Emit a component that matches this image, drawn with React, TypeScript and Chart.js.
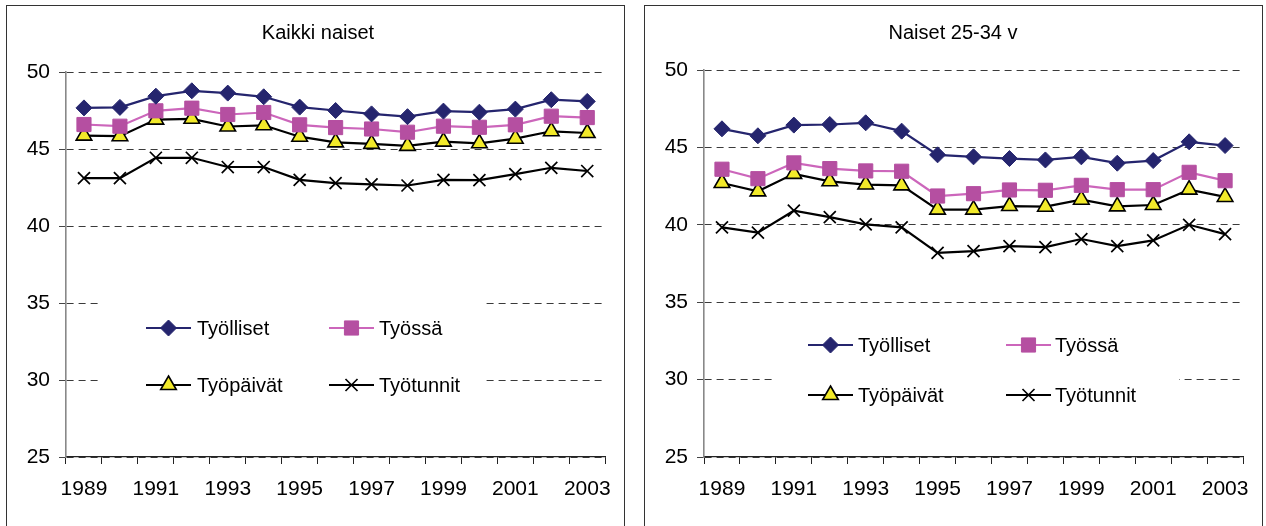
import React, { useEffect, useRef } from 'react';
import { Chart, registerables } from 'chart.js';

Chart.register(...registerables);

// ---------- DATA ----------
const years = ['1989', '1990', '1991', '1992', '1993', '1994', '1995', '1996', '1997', '1998', '1999', '2000', '2001', '2002', '2003'];
const seriesNames = ['Työlliset', 'Työssä', 'Työpäivät', 'Työtunnit'];
const yTickValues = [25, 30, 35, 40, 45, 50];

// Kaikki naiset
const allTyolliset = [47.67, 47.7, 48.43, 48.78, 48.63, 48.39, 47.72, 47.5, 47.28, 47.1, 47.46, 47.39, 47.59, 48.2, 48.09];
const allTyossa = [46.59, 46.48, 47.48, 47.65, 47.24, 47.37, 46.57, 46.39, 46.3, 46.09, 46.48, 46.41, 46.57, 47.13, 47.04];
const allTyopaivat = [45.87, 45.83, 46.91, 46.96, 46.46, 46.54, 45.8, 45.43, 45.33, 45.2, 45.48, 45.37, 45.67, 46.15, 46.04];
const allTyotunnit = [43.11, 43.11, 44.43, 44.43, 43.83, 43.83, 43.0, 42.78, 42.7, 42.63, 43.0, 42.98, 43.37, 43.78, 43.57];

// Naiset 25-34 v
const youngTyolliset = [46.2, 45.75, 46.44, 46.48, 46.59, 46.05, 44.52, 44.39, 44.28, 44.19, 44.39, 43.98, 44.15, 45.36, 45.12];
const youngTyossa = [43.59, 42.98, 44.0, 43.63, 43.48, 43.46, 41.86, 42.01, 42.25, 42.23, 42.55, 42.27, 42.27, 43.39, 42.85];
const youngTyopaivat = [42.7, 42.16, 43.29, 42.81, 42.6, 42.55, 40.98, 40.98, 41.21, 41.17, 41.62, 41.19, 41.28, 42.27, 41.8];
const youngTyotunnit = [39.83, 39.49, 40.91, 40.5, 40.03, 39.83, 38.19, 38.3, 38.62, 38.56, 39.08, 38.62, 38.99, 40.0, 39.4];

// ---------- STYLE ----------
const FONT = "'Liberation Sans', Arial, sans-serif";
const NAVY = '#25256E';
const PINK_LINE = '#CC66BB';
const PINK_FILL = '#B54FA1';
const YELLOW = '#F2EA2A';

type SeriesStyle = {
  pointStyle: string;
  line: string;
  fill: string;
  stroke: string;
  radius: number;
  pbw: number;
};

const styles: SeriesStyle[] = [
  { pointStyle: 'rectRot', line: NAVY, fill: NAVY, stroke: NAVY, radius: 8, pbw: 1 },
  { pointStyle: 'rect', line: PINK_LINE, fill: PINK_FILL, stroke: PINK_FILL, radius: 10, pbw: 1 },
  { pointStyle: 'triangle', line: '#000000', fill: YELLOW, stroke: '#000000', radius: 9, pbw: 1.6 },
  { pointStyle: 'crossRot', line: '#000000', fill: '#000000', stroke: '#000000', radius: 8.5, pbw: 1.7 },
];

function drawMarker(ctx: CanvasRenderingContext2D, s: SeriesStyle, x: number, y: number) {
  const r = s.radius;
  ctx.save();
  ctx.fillStyle = s.fill;
  ctx.strokeStyle = s.stroke;
  ctx.lineWidth = s.pbw;
  ctx.beginPath();
  if (s.pointStyle === 'rectRot') {
    ctx.moveTo(x, y - r);
    ctx.lineTo(x + r, y);
    ctx.lineTo(x, y + r);
    ctx.lineTo(x - r, y);
    ctx.closePath();
    ctx.fill();
    ctx.stroke();
  } else if (s.pointStyle === 'rect') {
    const h = Math.SQRT1_2 * r;
    ctx.rect(x - h, y - h, 2 * h, 2 * h);
    ctx.fill();
    ctx.stroke();
  } else if (s.pointStyle === 'triangle') {
    const a = (2 * Math.PI) / 3;
    ctx.moveTo(x, y - r);
    ctx.lineTo(x + Math.sin(a) * r, y - Math.cos(a) * r);
    ctx.lineTo(x + Math.sin(2 * a) * r, y - Math.cos(2 * a) * r);
    ctx.closePath();
    ctx.fill();
    ctx.stroke();
  } else {
    const d = Math.SQRT1_2 * r;
    ctx.moveTo(x - d, y - d);
    ctx.lineTo(x + d, y + d);
    ctx.moveTo(x + d, y - d);
    ctx.lineTo(x - d, y + d);
    ctx.stroke();
  }
  ctx.restore();
}

type PanelLayout = {
  left: number;
  width: number;
  canvasW: number;
  areaLeft: number;
  areaTop: number;
  areaRight: number;
  areaBottom: number;
  titleX: number;
  titleY: number;
  legendBox: [number, number, number, number];
  legendRows: [number, number];
  legendCols: [number, number][]; // [lineStartX, textX]
};

const CANVAS_H = 520;

const leftLayout: PanelLayout = {
  left: 6,
  width: 619,
  canvasW: 617,
  areaLeft: 59,
  areaTop: 66,
  areaRight: 605,
  areaBottom: 451,
  titleX: 311,
  titleY: 27,
  legendBox: [93, 292, 386, 110],
  legendRows: [322, 379],
  legendCols: [
    [139, 190],
    [322, 372],
  ],
};

const rightLayout: PanelLayout = {
  left: 644,
  width: 619,
  canvasW: 617,
  areaLeft: 59,
  areaTop: 64,
  areaRight: 600,
  areaBottom: 451,
  titleX: 308,
  titleY: 27,
  legendBox: [129, 318, 405, 100],
  legendRows: [339, 389],
  legendCols: [
    [163, 213],
    [361, 410],
  ],
};

function Panel({ title, series, layout }: { title: string; series: number[][]; layout: PanelLayout }) {
  const ref = useRef<HTMLCanvasElement | null>(null);

  useEffect(() => {
    const canvas = ref.current;
    if (!canvas) return;

    const overlay = {
      id: 'panelOverlay',
      afterDatasetsDraw(chart: any) {
        const ctx: CanvasRenderingContext2D = chart.ctx;
        ctx.save();
        // title
        ctx.fillStyle = '#000';
        ctx.font = `20px ${FONT}`;
        ctx.textAlign = 'center';
        ctx.textBaseline = 'middle';
        ctx.fillText(title, layout.titleX, layout.titleY);
        // legend box
        const [bx, by, bw, bh] = layout.legendBox;
        ctx.fillStyle = '#ffffff';
        ctx.fillRect(bx, by, bw, bh);
        seriesNames.forEach((name, i) => {
          const row = Math.floor(i / 2);
          const col = i % 2;
          const y = layout.legendRows[row];
          const [lx, tx] = layout.legendCols[col];
          const s = styles[i];
          ctx.save();
          ctx.strokeStyle = s.line;
          ctx.lineWidth = 2;
          ctx.beginPath();
          ctx.moveTo(lx, y);
          ctx.lineTo(lx + 45, y);
          ctx.stroke();
          ctx.restore();
          drawMarker(ctx, s, lx + 22.5, y);
          ctx.fillStyle = '#000';
          ctx.font = `20px ${FONT}`;
          ctx.textAlign = 'left';
          ctx.textBaseline = 'middle';
          ctx.fillText(name, tx, y + 1);
        });
        ctx.restore();
      },
    };

    const chart = new Chart(canvas, {
      type: 'line',
      data: {
        labels: years,
        datasets: series.map((vals, i) => ({
          label: seriesNames[i],
          data: vals,
          borderColor: styles[i].line,
          backgroundColor: styles[i].fill,
          borderWidth: 2.2,
          pointStyle: styles[i].pointStyle as any,
          pointRadius: styles[i].radius,
          pointHoverRadius: styles[i].radius,
          pointBackgroundColor: styles[i].fill,
          pointBorderColor: styles[i].stroke,
          pointBorderWidth: styles[i].pbw,
          tension: 0,
          fill: false,
        })),
      },
      options: {
        animation: false,
        responsive: false,
        maintainAspectRatio: false,
        events: [],
        layout: {
          padding: {
            left: 0,
            top: layout.areaTop,
            right: layout.canvasW - layout.areaRight,
            bottom: 0,
          },
        },
        plugins: {
          legend: { display: false },
          title: { display: false },
          tooltip: { enabled: false },
        },
        scales: {
          x: {
            type: 'category',
            offset: true,
            grid: {
              display: true,
              drawOnChartArea: false,
              drawTicks: true,
              tickLength: 7,
              tickColor: '#222',
              tickWidth: 1,
              offset: true,
            },
            border: { display: true, color: '#222', width: 1.2 },
            ticks: {
              autoSkip: false,
              maxRotation: 0,
              minRotation: 0,
              padding: 13,
              color: '#000',
              font: { family: FONT, size: 21 },
              callback: (_v: any, idx: number) => (idx % 2 === 0 ? years[idx] : ''),
            },
            afterFit: (scale: any) => {
              scale.height = CANVAS_H - layout.areaBottom;
            },
          },
          y: {
            min: 25,
            max: 50,
            afterBuildTicks: (scale: any) => {
              scale.ticks = yTickValues.map((v) => ({ value: v }));
            },
            grid: {
              display: true,
              color: '#3a3a3a',
              lineWidth: 1,
              drawTicks: true,
              tickLength: 7,
              tickColor: '#444',
              tickWidth: 1,
              tickBorderDash: [],
            },
            border: { display: true, color: '#888', width: 1.6, dash: [7, 5] },
            ticks: {
              padding: 9,
              color: '#000',
              font: { family: FONT, size: 21 },
            },
            afterFit: (scale: any) => {
              scale.width = layout.areaLeft;
            },
          },
        },
      },
      plugins: [overlay],
    } as any);

    return () => {
      chart.destroy();
    };
  }, [title, series, layout]);

  return (
    <div
      style={{
        position: 'absolute',
        left: layout.left,
        top: 5,
        width: layout.width,
        height: 540,
        border: '1px solid #333',
        boxSizing: 'border-box',
        background: '#fff',
      }}
    >
      <canvas
        ref={ref}
        width={layout.canvasW}
        height={CANVAS_H}
        style={{ position: 'absolute', left: 0, top: 0, width: layout.canvasW, height: CANVAS_H }}
      />
    </div>
  );
}

const leftSeries = [allTyolliset, allTyossa, allTyopaivat, allTyotunnit];
const rightSeries = [youngTyolliset, youngTyossa, youngTyopaivat, youngTyotunnit];

export default function App() {
  return (
    <div
      style={{
        position: 'absolute',
        left: 0,
        top: 0,
        width: 1266,
        height: 526,
        overflow: 'hidden',
        background: '#fff',
      }}
    >
      <Panel title="Kaikki naiset" series={leftSeries} layout={leftLayout} />
      <Panel title="Naiset 25-34 v" series={rightSeries} layout={rightLayout} />
    </div>
  );
}
